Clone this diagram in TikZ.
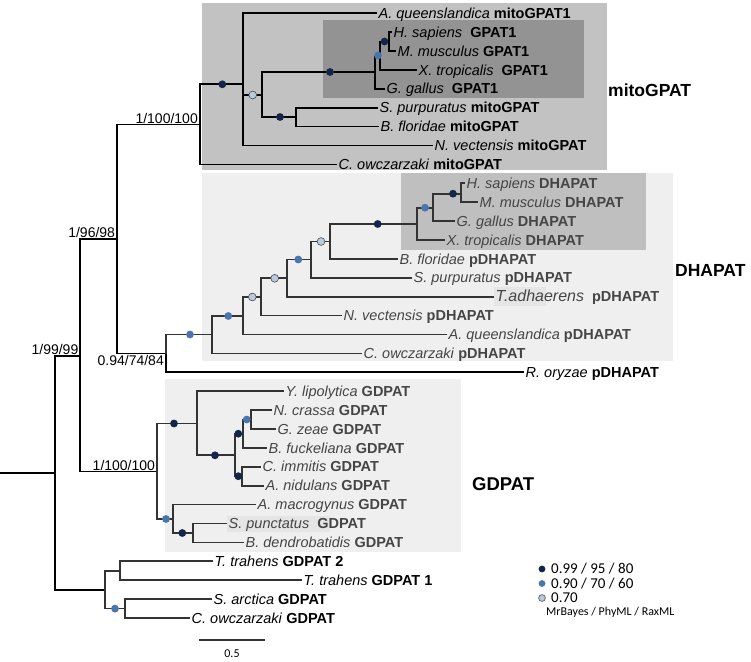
\documentclass[tikz,border=0pt]{standalone}
\usepackage{fontspec}
\setmainfont{Liberation Sans}
\newfontfamily\legfont{Carlito}
\definecolor{bgmito}{HTML}{C2C2C2}
\definecolor{bggpat}{HTML}{939393}
\definecolor{bglight}{HTML}{EFEFEF}
\definecolor{bgdhap}{HTML}{BFBFBF}
\definecolor{bgtag}{HTML}{E5E5E5}
\definecolor{cdk}{HTML}{13264A}
\definecolor{cbl}{HTML}{4A76AE}
\definecolor{clt}{HTML}{BACADE}
\definecolor{gline}{HTML}{333333}
\definecolor{gtext}{HTML}{454545}
\tikzset{
  tl/.style={line width=1.7pt, black},
  tg/.style={line width=1.7pt, gline},
  lab/.style={anchor=west, inner sep=1.5pt, text height=10.2pt, text depth=0pt, font=\fontsize{14.5}{16}\selectfont},
  glab/.style={lab, text=gtext},
  dotbase/.style={circle, inner sep=0pt, minimum size=7.8pt},
  ddk/.style={dotbase, fill=cdk},
  dbl/.style={dotbase, fill=cbl},
  dlt/.style={dotbase, fill=clt, draw=black!70, line width=0.6pt},
  sup/.style={inner sep=1pt, font=\fontsize{14}{16}\selectfont},
  clade/.style={anchor=west, inner sep=0pt, font=\fontsize{17.5}{20}\bfseries\selectfont},
  legtext/.style={anchor=west, inner sep=0pt, font=\legfont\fontsize{15}{17}\selectfont}
}
\newcommand{\tx}[2]{\textit{#1} \textbf{#2}}
\begin{document}
\begin{tikzpicture}[x=1pt,y=-1pt]
\useasboundingbox (0,0) rectangle (751,661);
\fill[white] (0,0) rectangle (751,661);
% backgrounds
\fill[bgmito] (201.5,3.3) rectangle (606.7,170);
\fill[bggpat] (323.3,20) rectangle (584.3,98.3);
\fill[bglight] (202.3,172.7) rectangle (673.3,360.7);
\fill[bgdhap] (400.7,173.3) rectangle (646,250);
\fill[bglight] (165,379) rectangle (460.7,551.7);
\fill[bgtag] (494,287) rectangle (546,306);
\fill[bgtag] (227,515.5) rectangle (330,532);

% internal nodes
\coordinate (root0) at (0,473);
\coordinate (r) at (55,473);
\coordinate (n1) at (80,356);
\coordinate (n2) at (116.7,239);
\coordinate (m0) at (200,124.5);
\coordinate (m1) at (243.3,84.3);
\coordinate (m2) at (262.3,95);
\coordinate (msb) at (295.7,117);
\coordinate (g0) at (375,72);
\coordinate (g1) at (380,55.5);
\coordinate (g2) at (389,41.5);
\coordinate (d0) at (165.7,353.6);
\coordinate (d1) at (211.7,334.5);
\coordinate (d2) at (242.7,316);
\coordinate (d3) at (260.7,297);
\coordinate (d4) at (286.7,278.3);
\coordinate (d5) at (311,259.5);
\coordinate (d6) at (330,241.5);
\coordinate (d7) at (416.7,224);
\coordinate (d8) at (433.3,207.7);
\coordinate (d9) at (461,193.7);
\coordinate (ga0) at (156.7,471.5);
\coordinate (ga) at (196.7,423.5);
\coordinate (gb) at (235,455.3);
\coordinate (gc) at (242.7,433.7);
\coordinate (ge) at (251,419.5);
\coordinate (gd) at (241.7,476.2);
\coordinate (gf) at (173.3,519);
\coordinate (gg) at (193.3,533);
\coordinate (b0) at (105,590);
\coordinate (tt) at (120,570.8);
\coordinate (sc) at (125.3,608.6);

% leaves: mitoGPAT
\node[lab] (maq) at (377,13) {\tx{A. queenslandica}{mitoGPAT1}};
\node[lab] (mhs) at (392,32.1) {\tx{H. sapiens\ }{GPAT1}};
\node[lab] (mmm) at (396,51) {\tx{M. musculus}{GPAT1}};
\node[lab] (mxt) at (417,69.9) {\tx{X. tropicalis\ }{GPAT1}};
\node[lab] (mgg) at (385,88.8) {\tx{G. gallus\ }{GPAT1}};
\node[lab] (msp) at (378,107.7) {\tx{S. purpuratus}{mitoGPAT}};
\node[lab] (mbf) at (379,126.6) {\tx{B. floridae}{mitoGPAT}};
\node[lab] (mnv) at (433,145.5) {\tx{N. vectensis}{mitoGPAT}};
\node[lab] (mco) at (337,164.4) {\tx{C. owczarzaki}{mitoGPAT}};
% DHAPAT
\node[glab] (dhs) at (465,183.3) {\tx{H. sapiens}{DHAPAT}};
\node[glab] (dmm) at (478,202.2) {\tx{M. musculus}{DHAPAT}};
\node[glab] (dgg) at (455,221.1) {\tx{G. gallus}{DHAPAT}};
\node[glab] (dxt) at (445,240) {\tx{X. tropicalis}{DHAPAT}};
\node[glab] (dbf) at (398,258.9) {\tx{B. floridae}{pDHAPAT}};
\node[glab] (dsp) at (412,277.8) {\tx{S. purpuratus}{pDHAPAT}};
\node[glab] (dta) at (494,296.7) {\textit{\fontsize{16}{18}\selectfont T.adhaerens}\ \ \textbf{pDHAPAT}};
\node[glab] (dnv) at (342,315.6) {\tx{N. vectensis}{pDHAPAT}};
\node[glab] (daq) at (447,334.5) {\tx{A. queenslandica}{pDHAPAT}};
\node[glab] (dco) at (362,353.4) {\tx{C. owczarzaki}{pDHAPAT}};
\node[lab] (dro) at (524,372.3) {\tx{R. oryzae}{pDHAPAT}};
% GDPAT
\node[glab] (gyl) at (284,391.2) {\tx{Y. lipolytica}{GDPAT}};
\node[glab] (gnc) at (272,410.1) {\tx{N. crassa}{GDPAT}};
\node[glab] (ggz) at (276,429) {\tx{G. zeae}{GDPAT}};
\node[glab] (gbf) at (267,447.9) {\tx{B. fuckeliana}{GDPAT}};
\node[glab] (gci) at (261,466.8) {\tx{C. immitis}{GDPAT}};
\node[glab] (gan) at (264,485.7) {\tx{A. nidulans}{GDPAT}};
\node[glab] (gam) at (256,504.6) {\tx{A. macrogynus}{GDPAT}};
\node[glab] (gsp) at (227,523.5) {\tx{S. punctatus\ }{GDPAT}};
\node[glab] (gbd) at (244,542.4) {\tx{B. dendrobatidis}{GDPAT}};
% bottom
\node[lab] (bt2) at (213,561.3) {\tx{T. trahens}{GDPAT 2}};
\node[lab] (bt1) at (302,580.2) {\tx{T. trahens}{GDPAT 1}};
\node[lab] (bsa) at (212,599.1) {\tx{S. arctica}{GDPAT}};
\node[lab] (bco) at (190,618) {\tx{C. owczarzaki}{GDPAT}};

% backbone
\draw[tl] (root0) -- (r);
\draw[tl] (r) |- (n1);
\draw[tl] (r) |- (b0);
\draw[tl] (n1) |- (n2);
\draw[tl] (n1) |- (ga0);
\draw[tl] (n2) |- (m0);
\draw[tl] (n2) |- (d0);
% mito
\draw[tl] (m0) |- (m1);
\draw[tl] (m0) |- (mco.west);
\draw[tl] (m1) |- (maq.west);
\draw[tl] (m1) |- (m2);
\draw[tl] (m1) |- (mnv.west);
\draw[tl] (m2) |- (g0);
\draw[tl] (m2) |- (msb);
\draw[tl] (msb) |- (msp.west);
\draw[tl] (msb) |- (mbf.west);
\draw[tl] (g0) |- (g1);
\draw[tl] (g0) |- (mgg.west);
\draw[tl] (g1) |- (g2);
\draw[tl] (g1) |- (mxt.west);
\draw[tl] (g2) |- (mhs.west);
\draw[tl] (g2) |- (mmm.west);
% DHAPAT
\draw[tl] (d0) |- (dro.west);
\draw[tg] (d0) |- (d1);
\draw[tg] (d1) |- (d2);
\draw[tg] (d1) |- (dco.west);
\draw[tg] (d2) |- (d3);
\draw[tg] (d2) |- (daq.west);
\draw[tg] (d3) |- (d4);
\draw[tg] (d3) |- (dnv.west);
\draw[tg] (d4) |- (d5);
\draw[tg] (d4) |- (dta.west);
\draw[tg] (d5) |- (d6);
\draw[tg] (d5) |- (dsp.west);
\draw[tg] (d6) |- (d7);
\draw[tg] (d6) |- (dbf.west);
\draw[tg] (d7) |- (d8);
\draw[tg] (d7) |- (dxt.west);
\draw[tg] (d8) |- (d9);
\draw[tg] (d8) |- (dgg.west);
\draw[tg] (d9) |- (dhs.west);
\draw[tg] (d9) |- (dmm.west);
% GDPAT
\draw[tg] (ga0) |- (ga);
\draw[tg] (ga0) |- (gf);
\draw[tg] (ga) |- (gyl.west);
\draw[tg] (ga) |- (gb);
\draw[tg] (gb) |- (gc);
\draw[tg] (gb) |- (gd);
\draw[tg] (gc) |- (ge);
\draw[tg] (gc) |- (gbf.west);
\draw[tg] (ge) |- (gnc.west);
\draw[tg] (ge) |- (ggz.west);
\draw[tg] (gd) |- (gci.west);
\draw[tg] (gd) |- (gan.west);
\draw[tg] (gf) |- (gam.west);
\draw[tg] (gf) |- (gg);
\draw[tg] (gg) |- (gsp.west);
\draw[tg] (gg) |- (gbd.west);
% bottom
\draw[tg] (b0) |- (tt);
\draw[tg] (b0) |- (sc);
\draw[tg] (tt) |- (bt2.west);
\draw[tg] (tt) |- (bt1.west);
\draw[tg] (sc) |- (bsa.west);
\draw[tg] (sc) |- (bco.west);

% support dots
\node[ddk] (p1) at (222.3,84.3) {};
\node[dlt] (p2) at (252.7,95) {};
\node[ddk] (p3) at (280,117) {};
\node[ddk] (p4) at (330,72) {};
\node[dbl] (p5) at (378,55.5) {};
\node[ddk] (p6) at (384.5,41.5) {};
\node[dbl] (q1) at (190,334.5) {};
\node[dbl] (q2) at (228.3,316) {};
\node[dlt] (q3) at (252.3,297) {};
\node[dlt] (q4) at (274.7,278.3) {};
\node[dbl] (q5) at (298.3,259.5) {};
\node[dlt] (q6) at (321,241.5) {};
\node[ddk] (q7) at (377.7,224) {};
\node[dbl] (q8) at (425,207.7) {};
\node[ddk] (q9) at (453,193.7) {};
\node[ddk] (s1) at (174,423.5) {};
\node[ddk] (s2) at (215,455.3) {};
\node[ddk] (s3) at (238.3,433.7) {};
\node[dbl] (s4) at (246.7,419.5) {};
\node[ddk] (s5) at (238.3,476.2) {};
\node[dbl] (s6) at (166,519) {};
\node[ddk] (s7) at (182.3,533) {};
\node[dbl] (t1) at (115,608.6) {};

% support values
\node[sup, anchor=south east] (v1) at (199,124.5) {1/100/100};
\node[sup, anchor=south east] (v2) at (116.2,239) {1/96/98};
\node[sup, anchor=south east] (v3) at (79.5,356) {1/99/99};
\node[sup, anchor=north east] (v4) at (165,354.5) {0.94/74/84};
\node[sup, anchor=south east] (v5) at (156.2,471.5) {1/100/100};

% clade names
\node[clade] (cm) at (608,90) {mitoGPAT};
\node[clade] (cd) at (675,270) {DHAPAT};
\node[clade, font=\fontsize{18.5}{21}\bfseries\selectfont] (cg) at (472,484) {GDPAT};

% legend
\node[dotbase, minimum size=6.8pt, fill=cdk] (l1) at (542,569) {};
\node[dotbase, minimum size=6.8pt, fill=cbl] (l2) at (542,583.5) {};
\node[dotbase, minimum size=6.8pt, fill=clt, draw=black!70, line width=0.6pt] (l3) at (542,598) {};
\node[legtext] (lt1) at (551,569) {0.99 / 95 / 80};
\node[legtext] (lt2) at (551,583.5) {0.90 / 70 / 60};
\node[legtext] (lt3) at (551,598) {0.70};
\node[legtext, font=\legfont\fontsize{12}{14}\selectfont] (lt4) at (546,612.5) {MrBayes / PhyML / RaxML};

% scale bar
\coordinate (sb1) at (199.3,640);
\coordinate (sb2) at (265,640);
\draw[line width=1.7pt, gline] (sb1) -- (sb2);
\node[font=\legfont\fontsize{12}{14}\selectfont, inner sep=0pt] (sbl) at (232,653.5) {0.5};
\end{tikzpicture}
\end{document}
